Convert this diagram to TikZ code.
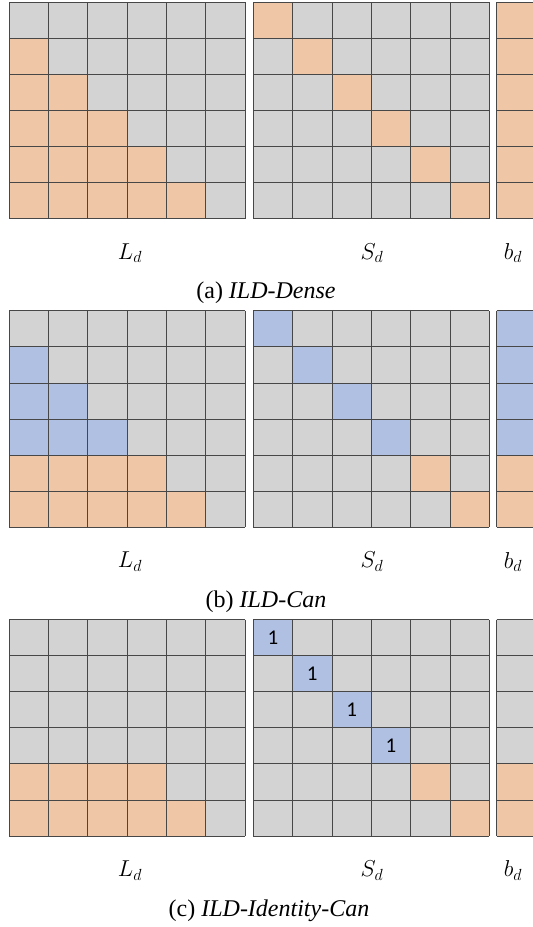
\documentclass[tikz,border=0pt]{standalone}
\usepackage{fix-cm}
\usepackage{fontspec}
\setmainfont{Liberation Serif}
\newfontfamily\cellfont{Carlito}
\definecolor{cellgray}{RGB}{211,211,211}
\definecolor{cellpeach}{RGB}{239,199,167}
\definecolor{cellblue}{RGB}{176,192,227}
\begin{document}
\begin{tikzpicture}[x=1pt,y=-1pt,
  gry/.style={fill=cellgray},
  ora/.style={fill=cellpeach},
  blu/.style={fill=cellblue},
  rule/.style={draw=black!72,line width=0.9pt},
  lbl/.style={font=\fontsize{23}{26}\selectfont},
  captxt/.style={font=\fontsize{24}{28}\selectfont},
  one/.style={font=\cellfont\fontsize{21}{24}\selectfont}]
\useasboundingbox (0,0) rectangle (533,927);
\clip (0,0) rectangle (533,927);
%
% gray background of the three grids in every panel
\foreach \t in {2,310.8,619.5}{
  \fill[gry] (9,\t) rectangle ++(236,216.6);
  \fill[gry] (253.3,\t) rectangle ++(236,216.6);
  \fill[gry] (496.7,\t) rectangle ++(39.33,216.6);
}
%
% (a) ILD-Dense
\foreach \r in {1,...,5}
  \foreach \c in {1,...,\r}
    \fill[ora] ({9+(\c-1)*39.33},{2+\r*36.1}) rectangle ++(39.33,36.1);
\foreach \r in {0,...,5}{
  \fill[ora] ({253.3+\r*39.33},{2+\r*36.1}) rectangle ++(39.33,36.1);
  \fill[ora] (496.7,{2+\r*36.1}) rectangle ++(39.33,36.1);
}
%
% (b) ILD-Can
\foreach \r in {1,2,3}
  \foreach \c in {1,...,\r}
    \fill[blu] ({9+(\c-1)*39.33},{310.8+\r*36.1}) rectangle ++(39.33,36.1);
\foreach \r in {4,5}
  \foreach \c in {1,...,\r}
    \fill[ora] ({9+(\c-1)*39.33},{310.8+\r*36.1}) rectangle ++(39.33,36.1);
\foreach \r in {0,...,3}{
  \fill[blu] ({253.3+\r*39.33},{310.8+\r*36.1}) rectangle ++(39.33,36.1);
  \fill[blu] (496.7,{310.8+\r*36.1}) rectangle ++(39.33,36.1);
}
\foreach \r in {4,5}{
  \fill[ora] ({253.3+\r*39.33},{310.8+\r*36.1}) rectangle ++(39.33,36.1);
  \fill[ora] (496.7,{310.8+\r*36.1}) rectangle ++(39.33,36.1);
}
%
% (c) ILD-Identity-Can
\foreach \r in {4,5}{
  \foreach \c in {1,...,\r}
    \fill[ora] ({9+(\c-1)*39.33},{619.5+\r*36.1}) rectangle ++(39.33,36.1);
  \fill[ora] ({253.3+\r*39.33},{619.5+\r*36.1}) rectangle ++(39.33,36.1);
  \fill[ora] (496.7,{619.5+\r*36.1}) rectangle ++(39.33,36.1);
}
\foreach \r in {0,...,3}{
  \fill[blu] ({253.3+\r*39.33},{619.5+\r*36.1}) rectangle ++(39.33,36.1);
  \node[one] (one\r) at ({253.3+(\r+0.5)*39.33},{619.5+(\r+0.5)*36.1}) {1};
}
%
% grid lines
\foreach \t in {2,310.8,619.5}{
  \foreach \x in {9,253.3}{
    \foreach \i in {0,...,6}{
      \draw[rule] ({\x+\i*39.33},\t) -- ++(0,216.6);
      \draw[rule] (\x,{\t+\i*36.1}) -- ++(236,0);
    }
  }
  \foreach \i in {0,...,6}
    \draw[rule] (496.7,{\t+\i*36.1}) -- ++(39.33,0);
  \draw[rule] (496.7,\t) -- ++(0,216.6);
}
%
% labels and captions
\node[lbl] (La) at (130,253) {$L_d$};
\node[lbl] (Sa) at (372,253) {$S_d$};
\node[lbl] (ba) at (513,253) {$b_d$};
\node[captxt] (capa) at (266,293) {(a) \textit{ILD-Dense}};
%
\node[lbl] (Lb) at (130,561.8) {$L_d$};
\node[lbl] (Sb) at (372,561.8) {$S_d$};
\node[lbl] (bb) at (513,561.8) {$b_d$};
\node[captxt] (capb) at (266,601.8) {(b) \textit{ILD-Can}};
%
\node[lbl] (Lc) at (130,870.5) {$L_d$};
\node[lbl] (Sc) at (372,870.5) {$S_d$};
\node[lbl] (bc) at (513,870.5) {$b_d$};
\node[captxt] (capc) at (269,910.5) {(c) \textit{ILD-Identity-Can}};
\end{tikzpicture}
\end{document}
